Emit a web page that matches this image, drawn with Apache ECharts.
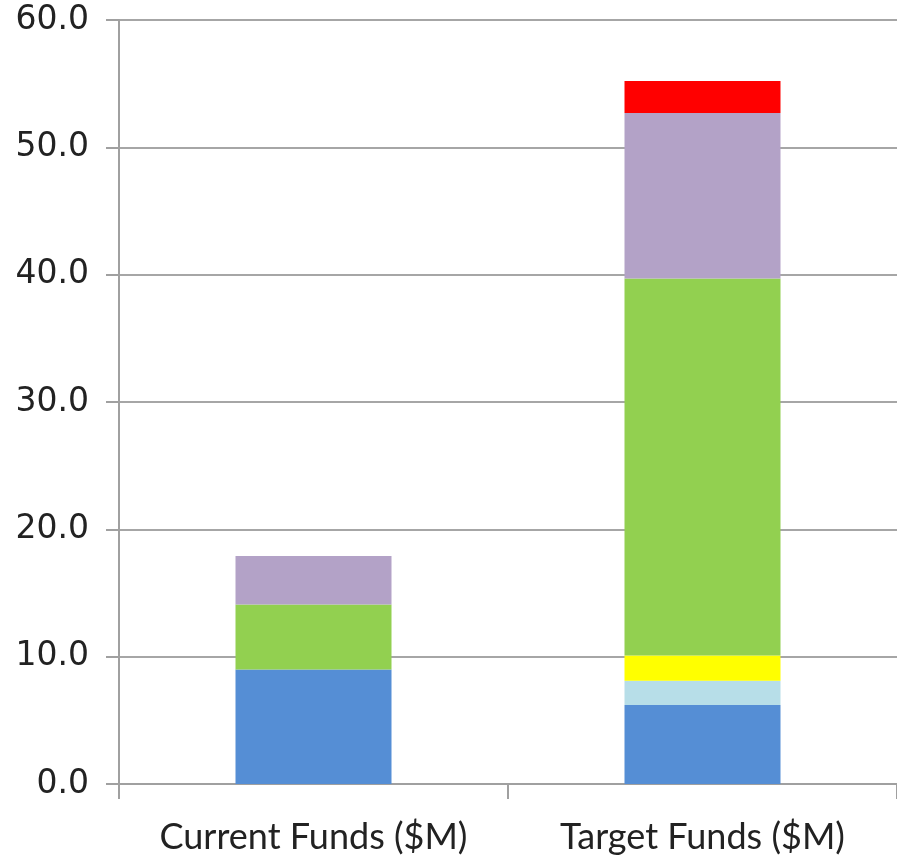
<!DOCTYPE html>
<html><head><meta charset="utf-8">
<script src="https://cdn.jsdelivr.net/npm/echarts@6/dist/echarts.min.js"></script>
<style>html,body{margin:0;padding:0;background:#fff}#c{width:897px;height:856px}</style>
</head><body><div id="c"></div>
<script>
const categories = ['Current Funds ($M)', 'Target Funds ($M)'];
const blueVals = [9.0, 6.2];
const lightBlueVals = [0, 1.9];
const yellowVals = [0, 2.0];
const greenVals = [5.1, 29.6];
const purpleVals = [3.8, 13.0];
const redVals = [0, 2.5];
const yTicks = [0, 10, 20, 30, 40, 50, 60];

const seriesDefs = [
  {name: 'Blue', data: blueVals, color: '#558ED5'},
  {name: 'Light Blue', data: lightBlueVals, color: '#B7DEE8'},
  {name: 'Yellow', data: yellowVals, color: '#FFFF00'},
  {name: 'Green', data: greenVals, color: '#92D050'},
  {name: 'Purple', data: purpleVals, color: '#B3A2C7'},
  {name: 'Red', data: redVals, color: '#FF0000'}
];

const chart = echarts.init(document.getElementById('c'), null, {renderer: 'canvas'});
chart.setOption({
  animation: false,
  grid: {left: 119, right: 0, top: 20, bottom: 72, containLabel: false},
  xAxis: {
    type: 'category',
    data: categories,
    axisLine: {show: true, lineStyle: {color: '#a0a0a0', width: 2}},
    axisTick: {show: true, length: 15, lineStyle: {color: '#a0a0a0', width: 2}},
    axisLabel: {interval: 0, margin: 35, fontFamily: 'Lato', fontSize: 36, color: '#222'}
  },
  yAxis: {
    type: 'value',
    min: yTicks[0], max: yTicks[yTicks.length - 1], interval: 10,
    axisLine: {show: true, lineStyle: {color: '#a0a0a0', width: 2}},
    axisTick: {show: true, length: 13, lineStyle: {color: '#a0a0a0', width: 2}},
    splitLine: {show: true, lineStyle: {color: '#a6a6a6', width: 2}},
    axisLabel: {margin: 30, fontFamily: 'DejaVu Sans', fontSize: 33, color: '#222',
      formatter: v => v.toFixed(1)}
  },
  series: seriesDefs.map(s => ({
    name: s.name, type: 'bar', stack: 'total', data: s.data,
    barWidth: 156, itemStyle: {color: s.color}
  }))
});
</script></body></html>
